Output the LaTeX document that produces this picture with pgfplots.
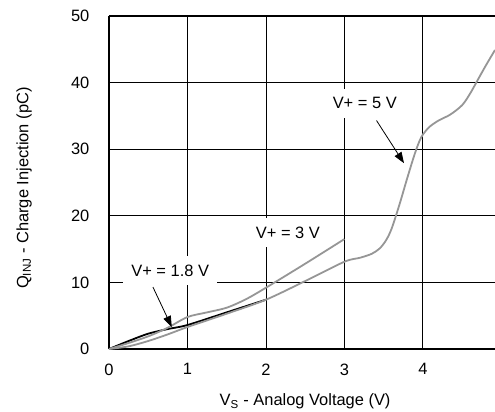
\documentclass[border=0pt]{standalone}
\usepackage{fontspec}
\setmainfont{Liberation Sans}
\usepackage{pgfplots}
\pgfplotsset{compat=1.18}
\usetikzlibrary{arrows.meta}
\definecolor{curvegray}{RGB}{150,150,150}

\begin{document}
\fontsize{16.5}{19}\selectfont
\begin{tikzpicture}
\begin{axis}[
    scale only axis,
    width=386bp, height=333bp,
    xmin=0, xmax=4.92, ymin=0, ymax=50,
    xtick={0,1,2,3,4}, ytick={0,10,20,30,40,50},
    grid=major,
    grid style={black, line width=0.8bp},
    axis x line*=box, axis y line*=left,
    axis line style={line width=1.6bp, -},
    major tick length=0pt,
    /pgf/number format/assume math mode=true,
    tick label style={font=\fontsize{16.5}{19}\selectfont},
    xticklabel style={yshift=-9bp},
    yticklabel style={xshift=-14bp},
    label style={font=\fontsize{16.5}{19}\selectfont},
    xlabel={V\textsubscript{S} - Analog Voltage (V)},
    ylabel={Q\textsubscript{INJ} - Charge Injection (pC)},
    every axis x label/.style={at={(axis description cs:0.508,-0.171)}, anchor=base},
    every axis y label/.style={at={(axis description cs:-0.22,0.483)}, rotate=90, anchor=center},
]
% V+ = 1.8 V
\addplot[black, line width=1.8bp, smooth] coordinates {
    (0,0) (0.25,1.2) (0.5,2.3) (0.75,3.0) (1,3.6) (1.5,5.5) (2,7.4)
};
% V+ = 3 V
\addplot[curvegray, line width=1.8bp, smooth] coordinates {
    (0,0) (0.25,0.9) (0.5,1.9) (0.75,3.2) (1,4.8) (1.25,5.5) (1.5,6.2)
    (1.75,7.5) (2,9.2) (2.5,12.8) (3,16.5)
};
% V+ = 5 V
\addplot[curvegray, line width=1.8bp, smooth] coordinates {
    (0,0) (0.25,0.4) (0.5,1.2) (0.75,2.2) (1,3.3) (1.5,5.3) (2,7.4)
    (2.5,10.2) (3,13.1) (3.2,13.7) (3.35,14.3) (3.45,15.1) (3.53,16.3)
    (3.6,18.0) (3.7,21.6) (3.8,25.6) (3.9,29.4) (3.98,31.8) (4.08,33.3)
    (4.2,34.3) (4.35,35.2) (4.5,36.6) (4.6,38.3) (4.7,40.4) (4.8,42.5)
    (4.92,44.9)
};
\node[fill=white, inner xsep=8bp, inner ysep=9bp] at (axis cs:0.78,11.8) {V+ = 1.8 V};
\node[fill=white, inner xsep=8bp, inner ysep=9bp] at (axis cs:2.28,17.5) {V+ = 3 V};
\node[fill=white, inner xsep=8bp, inner ysep=9bp] at (axis cs:3.26,36.9) {V+ = 5 V};
\draw[black, line width=0.8bp, -{Triangle[length=11bp, width=8bp]}]
    (axis cs:0.56,9.3) -- (axis cs:0.80,3.3);
\draw[black, line width=0.8bp, -{Triangle[length=11bp, width=8bp]}]
    (axis cs:3.41,34.3) -- (axis cs:3.76,27.9);
\end{axis}
\pgfresetboundingbox
\path[use as bounding box] ([xshift=-109bp,yshift=-63bp]current axis.south west)
    rectangle ([yshift=16bp]current axis.north east);
\end{tikzpicture}
\end{document}
